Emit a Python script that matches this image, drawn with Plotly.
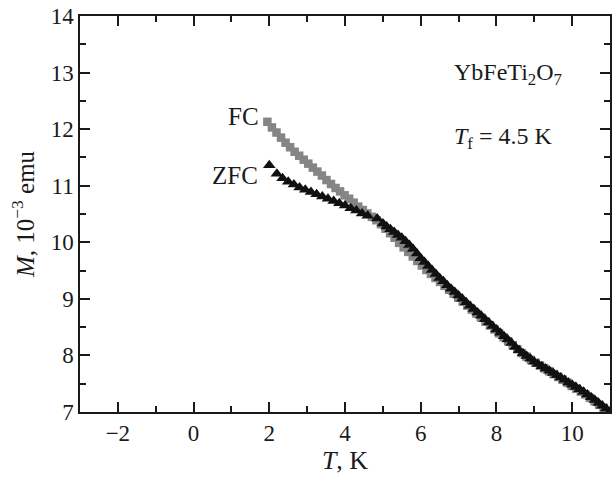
import plotly.graph_objects as go

zfc_T = [2.0, 2.2, 2.35, 2.5, 2.65, 2.8, 2.95, 3.1, 3.25, 3.4, 3.55, 3.7, 3.85, 4.0, 4.15, 4.3, 4.45, 4.6,
         4.85, 5.0, 5.1, 5.2, 5.3, 5.4, 5.5, 5.6, 5.7, 5.8, 5.9, 6.0, 6.1, 6.2, 6.3, 6.4, 6.5, 6.6, 6.7, 6.8,
         6.9, 7.0, 7.1, 7.2, 7.3, 7.4, 7.5, 7.6, 7.7, 7.8, 7.9, 8.0, 8.1, 8.2, 8.3, 8.4, 8.5, 8.6, 8.7, 8.8,
         8.9, 9.0, 9.1, 9.2, 9.3, 9.4, 9.5, 9.6, 9.7, 9.8, 9.9, 10.0, 10.1, 10.2, 10.3, 10.4, 10.5, 10.6,
         10.7, 10.8, 10.9, 11.0]
zfc_M = [11.36, 11.21, 11.13, 11.07, 11.02, 10.97, 10.93, 10.89, 10.85, 10.81, 10.77, 10.73, 10.69, 10.65,
         10.60, 10.56, 10.51, 10.47, 10.42, 10.33, 10.28, 10.23, 10.18, 10.13, 10.08, 10.02, 9.95, 9.88,
         9.80, 9.72, 9.65, 9.58, 9.51, 9.44, 9.37, 9.31, 9.24, 9.18, 9.12, 9.06, 9.00, 8.94, 8.88, 8.82,
         8.76, 8.70, 8.64, 8.58, 8.52, 8.46, 8.40, 8.34, 8.28, 8.22, 8.15, 8.09, 8.04, 7.99, 7.94, 7.89,
         7.85, 7.81, 7.77, 7.73, 7.69, 7.65, 7.61, 7.57, 7.52, 7.48, 7.44, 7.40, 7.36, 7.31, 7.26, 7.21,
         7.16, 7.11, 7.06, 7.01]

fc_T = [1.95, 2.07, 2.19, 2.31, 2.43, 2.55, 2.67, 2.79, 2.91, 3.03, 3.15, 3.27, 3.39, 3.51, 3.63, 3.75,
        3.87, 3.99, 4.11, 4.23, 4.35, 4.47, 4.59, 4.71, 4.83, 4.95, 5.07, 5.19, 5.31, 5.43, 5.55, 5.67,
        5.79, 5.91, 6.03, 6.15, 6.27, 6.39, 6.51, 6.63, 6.75, 6.87, 6.99, 7.11, 7.23, 7.35, 7.47, 7.59,
        7.71, 7.83, 7.95, 8.07, 8.19, 8.31, 8.43, 8.55, 8.67, 8.79, 8.91, 9.03, 9.15, 9.27, 9.39, 9.51,
        9.63, 9.75, 9.87, 9.99, 10.11, 10.23, 10.35, 10.47, 10.59, 10.71, 10.83, 10.95]
fc_M = [12.13, 12.03, 11.94, 11.85, 11.76, 11.68, 11.60, 11.53, 11.46, 11.39, 11.32, 11.25, 11.18, 11.10,
        11.03, 10.96, 10.90, 10.83, 10.77, 10.70, 10.63, 10.57, 10.51, 10.45, 10.39, 10.32, 10.24, 10.16,
        10.08, 9.99, 9.91, 9.83, 9.75, 9.67, 9.59, 9.51, 9.44, 9.37, 9.30, 9.23, 9.16, 9.09, 9.02, 8.95,
        8.88, 8.81, 8.74, 8.67, 8.60, 8.53, 8.46, 8.39, 8.32, 8.25, 8.18, 8.11, 8.04, 7.98, 7.92, 7.87,
        7.82, 7.77, 7.72, 7.67, 7.62, 7.57, 7.52, 7.46, 7.41, 7.36, 7.31, 7.25, 7.19, 7.13, 7.07, 7.01]

x_ticks = [-2, 0, 2, 4, 6, 8, 10]
y_ticks = [7, 8, 9, 10, 11, 12, 13, 14]

FONT = "Liberation Serif, Times New Roman, serif"
INK = "#1a1a1a"

fig = go.Figure()
fig.add_trace(go.Scatter(x=fc_T, y=fc_M, mode="markers", name="FC",
                         marker=dict(symbol="square", size=8.5, color="#858585", line=dict(width=0))))
fig.add_trace(go.Scatter(x=zfc_T, y=zfc_M, mode="markers", name="ZFC",
                         marker=dict(symbol="triangle-up", size=11, color="#111111", line=dict(width=0))))

axis_common = dict(showline=True, linecolor=INK, linewidth=1.5, mirror="allticks",
                   ticks="inside", ticklen=10, tickwidth=1.5, tickcolor=INK,
                   showgrid=False, zeroline=False,
                   tickfont=dict(family=FONT, size=23, color=INK))

fig.update_xaxes(range=[-3, 11], tickvals=x_ticks,
                 ticktext=[("\u2212" + str(-v)) if v < 0 else str(v) for v in x_ticks],
                 minor=dict(dtick=1, ticks="inside", ticklen=6, tickwidth=1.5, tickcolor=INK),
                 title=dict(text="<i>T</i>, K", font=dict(family=FONT, size=26, color=INK), standoff=2),
                 **axis_common)
fig.update_yaxes(range=[7, 14], tickvals=y_ticks, ticktext=[str(v) for v in y_ticks],
                 minor=dict(dtick=0.5, ticks="inside", ticklen=6, tickwidth=1.5, tickcolor=INK),
                 title=dict(text="<i>M</i>, 10<sup>\u22123</sup> emu",
                            font=dict(family=FONT, size=25, color=INK), standoff=9),
                 **axis_common)

ann_font = dict(family=FONT, size=25, color=INK)
fig.add_annotation(x=2.0, y=12.23, xref="x", yref="y", text="FC", showarrow=False,
                   xanchor="right", xshift=-8, font=ann_font)
fig.add_annotation(x=2.0, y=11.18, xref="x", yref="y", text="ZFC", showarrow=False,
                   xanchor="right", xshift=-9, font=ann_font)
fig.add_annotation(x=6.82, y=12.98, xref="x", yref="y", text="YbFeTi<sub>2</sub>O<sub>7</sub>",
                   showarrow=False, xanchor="left", font=dict(family=FONT, size=24, color=INK))
fig.add_annotation(x=6.82, y=11.84, xref="x", yref="y", text="<i>T</i><sub>f</sub> = 4.5 K",
                   showarrow=False, xanchor="left", font=dict(family=FONT, size=24, color=INK))

fig.update_layout(width=616, height=482, showlegend=False,
                  margin=dict(l=80, r=4, t=16, b=70),
                  paper_bgcolor="white", plot_bgcolor="white")

fig.write_html("out.html")
